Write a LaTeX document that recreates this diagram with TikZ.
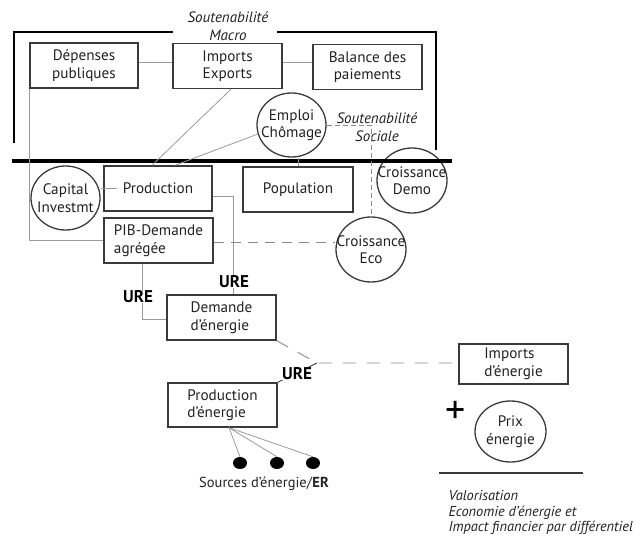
\documentclass[tikz,border=0pt]{standalone}
\usepackage{fontspec}
\setmainfont{PT Sans}
\usetikzlibrary{shapes.geometric}
\definecolor{boxc}{HTML}{3A3A3A}
\definecolor{linec}{HTML}{9A9A9A}
\definecolor{dashc}{HTML}{8A8A8A}
\definecolor{txtc}{HTML}{222222}
\begin{document}
\begin{tikzpicture}[x=1pt,y=-1pt,
  every node/.style={font=\fontsize{15.2}{17.5}\selectfont, text=txtc},
  box/.style={draw=boxc, line width=1.4pt, minimum width=109pt, minimum height=45pt, inner sep=0pt, align=center},
  lbox/.style={box, align=left},
  oval/.style={ellipse, draw=boxc, line width=1.3pt, minimum width=69pt, minimum height=64pt, inner sep=0pt},
  ovtext/.style={inner sep=0pt, align=center},
  conn/.style={draw=linec, line width=0.8pt},
  dconn/.style={draw=dashc, line width=0.9pt, dash pattern=on 10pt off 7pt},
  fconn/.style={draw=dashc, line width=0.7pt, dash pattern=on 5pt off 3pt},
  bracket/.style={draw=black, line width=1.4pt},
  ure/.style={font=\bfseries\fontsize{17}{17}\selectfont, text=black, fill=white, inner sep=0.3pt},
  ital/.style={font=\itshape\fontsize{15}{17.5}\selectfont, align=center},
  dot/.style={ellipse, fill=black, minimum width=14pt, minimum height=12pt, inner sep=0pt},
]
\useasboundingbox (0,0) rectangle (637,541);

% brackets and separator
\coordinate (bl) at (14,143);
\coordinate (tl) at (14,32);
\coordinate (tm1) at (173,32);
\coordinate (tm2) at (277,32);
\coordinate (tr) at (436,32);
\coordinate (br) at (436,150);
\draw[bracket] (bl) -- (tl) -- (tm1);
\draw[bracket] (tm2) -- (tr) -- (br);
\coordinate (sepl) at (12,161);
\coordinate (sepr) at (452,161);

% labels
\node[ital] (smacro) at (228,26) {Soutenabilité\\Macro};
\node[ital] (ssoc) at (377,127) {Soutenabilité\\Sociale};

% boxes
\node[box, minimum width=108pt] (dep) at (84,65.5) {Dépenses\\publiques};
\node[box] (imp) at (227.5,66) {Imports\\Exports};
\node[box] (bal) at (367.5,67) {Balance des\\paiements};
\node[box, minimum width=108pt] (prod) at (158,188.5) {Production};
\node[box, minimum width=110pt] (pop) at (298,189.5) {Population};
\node[lbox] (pib) at (158.5,240.5) {PIB-Demande\\agrégée};
\node[lbox] (dem) at (221.5,317.5) {Demande\\d'énergie};
\node[lbox, minimum height=44pt] (pe) at (222.5,405) {Production\\d'énergie};
\node[lbox, minimum height=40pt] (ie) at (513.5,364) {Imports\\d'énergie};

% ovals
\node[oval] (emp) at (291.5,125) {};
\node[ovtext] (empt) at (emp.center) {Emploi\\Chômage};
\node[oval] (cap) at (65.5,198) {};
\node[ovtext] (capt) at (cap.center) {Capital\\Investmt};
\node[oval, minimum width=70pt, minimum height=65pt] (demo) at (412,180.5) {};
\node[ovtext] (demot) at (demo.center) {Croissance\\Demo};
\node[oval, minimum width=70pt, minimum height=65pt] (eco) at (371,249.5) {};
\node[ovtext] (ecot) at (eco.center) {Croissance\\Eco};
\node[oval, minimum width=71pt, minimum height=61pt] (prix) at (510.5,431.5) {};
\node[ovtext] (prixt) at (prix.center) {Prix\\énergie};

\draw[line width=3.2pt] (sepl) -- (sepr);

% connectors
\draw[conn] ([yshift=3pt]dep.east) -- ([yshift=3pt]dep.east -| imp.west);
\draw[conn] ([yshift=4pt]imp.east) -- ([yshift=4pt]imp.east -| bal.west);
\draw[conn] ([xshift=3.5pt]imp.south) -- ([xshift=-6pt]prod.north);
\draw[conn] (emp.195) -- ([xshift=17pt]prod.north);
\draw[conn] (pop.north) -- (pop.north |- emp.south);
\draw[fconn] (emp.east) -| (eco.north);
\draw[conn] (cap.east |- prod.west) -- ([xshift=14pt]prod.west);
\draw[conn] (dep.south west) |- (pib.west);
\draw[conn] ([yshift=-7.5pt]prod.east) -| ([xshift=11.5pt]dem.north);
\draw[conn] ([xshift=-16.5pt]pib.south) |- ([yshift=-1.5pt]dem.west);
\draw[dconn] ([yshift=-1.5pt]pib.east) -- ([yshift=-1.5pt]pib.east -| eco.west);

\coordinate (j) at (317,363);
\draw[dconn, dash pattern=on 13pt off 11pt] (dem.south east) -- (j) -- (j -| ie.west);
\draw[draw=boxc, line width=0.9pt] (j) -- (pe.north east);

\node[ure] (ure1) at (234,281.5) {URE};
\node[ure] (ure2) at (138,297) {URE};
\node[ure] (ure3) at (297,374) {URE};

% sources
\coordinate (src) at ([xshift=6.5pt]pe.south);
\node[dot] (d1) at (240,463) {};
\node[dot] (d2) at (277,463) {};
\node[dot] (d3) at (313,463) {};
\draw[conn] (src) -- (d1.north);
\draw[conn] (src) -- (d2.north);
\draw[conn] (src) -- (d3.north);
\node[font=\fontsize{14.5}{17}\selectfont] (srclab) at (264,484) {Sources d'énergie/\textbf{ER}};

% valorisation
\node[font=\fontsize{40}{40}\selectfont, text=black] (plus) at (456,412) {+};
\coordinate (vl) at (439,473);
\coordinate (vr) at (583,473);
\draw[line width=1.5pt, draw=boxc] (vl) -- (vr);
\node[ital, font=\itshape\fontsize{14.4}{15.5}\selectfont, align=left, anchor=west] (val) at (445,512.5) {Valorisation\\Economie d'énergie et\\Impact financier par différentiel};
\end{tikzpicture}
\end{document}
